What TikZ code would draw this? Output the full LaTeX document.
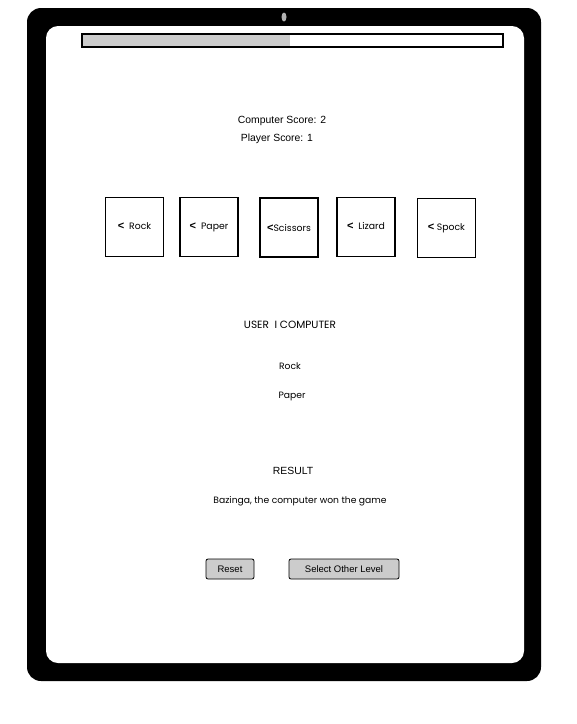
\documentclass[tikz,border=0pt]{standalone}
\usepackage{fontspec}
\setmainfont{Liberation Sans}
\newfontfamily\sketchfont{Poppins}
\usetikzlibrary{positioning}

\newcommand{\chev}{{\fontspec{Liberation Sans}\bfseries\fontsize{11}{12}\selectfont<}}

\begin{document}
\begin{tikzpicture}[x=1pt,y=-1pt,
        cardbox/.style={draw,line width=1.6pt,minimum width=58pt,minimum height=59pt,
            inner sep=0pt,font=\sketchfont\fontsize{9.3}{11}\selectfont},
        plain/.style={font=\fontsize{10.4}{12}\selectfont,inner sep=0pt},
        sketch/.style={font=\sketchfont\fontsize{9.2}{11}\selectfont,inner sep=0pt},
        button/.style={draw,line width=0.8pt,fill=gray!40,rounded corners=2pt,
            minimum height=20pt,inner sep=0pt,font=\fontsize{9.5}{11}\selectfont}]
    \useasboundingbox (0,0) rectangle (577,724);
    % tablet frame
    \fill[black,rounded corners=14pt] (27,8) rectangle (541,681);
    \fill[white,rounded corners=12pt] (46,26) rectangle (524,663);
    \fill[gray!60] (284,17) ellipse (2.5 and 4.5);
    % progress bar
    \fill[gray!40] (82,34) rectangle (290,47);
    \draw[line width=1.3pt] (82,34) rectangle (503,47);

    \node[plain] (cscore) at (282,121) {Computer Score: 2};
    \node[plain] (pscore) at (277,139) {Player Score: 1};

    \node[cardbox] (rock) at (134.5,227) {\raisebox{2pt}{\chev\ \ Rock}};
    \node[cardbox] (paper) at (209,227) {\raisebox{2pt}{\chev\ \ Paper}};
    \node[cardbox] (scissors) at (289,227.5) {\chev Scissors};
    \node[cardbox] (lizard) at (366,227) {\raisebox{2pt}{\chev\ \ Lizard}};
    \node[cardbox] (spock) at (446.5,228) {\chev\ Spock};

    \node[sketch,font=\sketchfont\fontsize{10.5}{12}\selectfont] (header) at (290,325) {USER\ \ I COMPUTER};
    \node[sketch] (usermove) at (290,366) {Rock};
    \node[sketch] (compmove) at (292,396) {Paper};
    \node[plain] (result) at (293,471) {RESULT};
    \node[sketch] (verdict) at (300,501) {Bazinga, the computer won the game};

    \node[button,minimum width=48pt] (reset) at (230,569) {Reset};
    \node[button,minimum width=110pt] (level) at (344,569) {Select Other Level};
\end{tikzpicture}
\end{document}
